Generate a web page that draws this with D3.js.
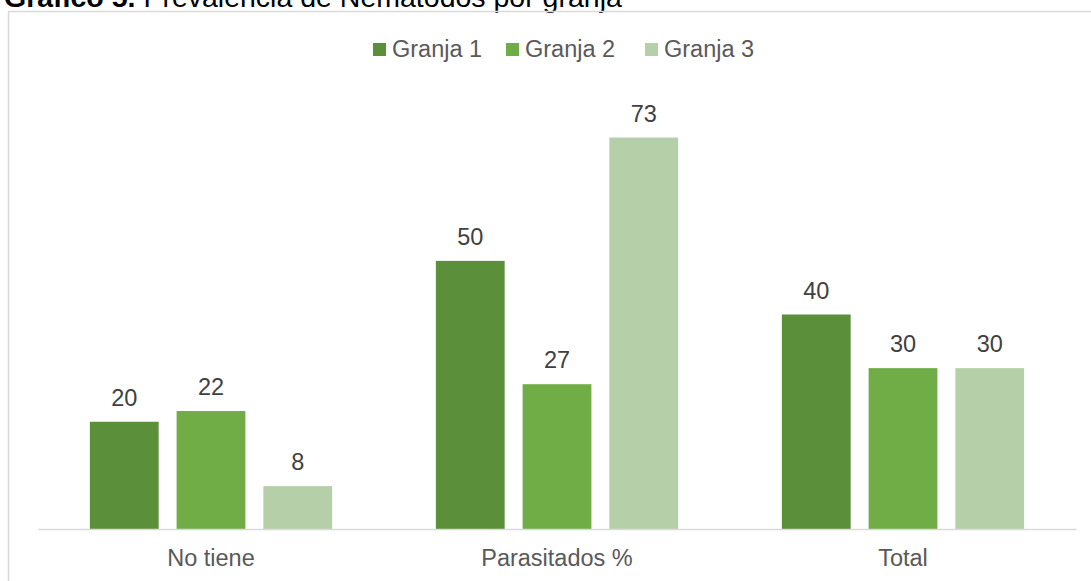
<!DOCTYPE html>
<html>
<head>
<meta charset="utf-8">
<script src="https://cdn.jsdelivr.net/npm/d3@7"></script>
<style>
  html, body { margin: 0; padding: 0; background: #fff; }
  svg { display: block; }
</style>
</head>
<body>
<svg id="chart" width="1091" height="581"></svg>
<script>
// Categories and series values
const categories = ["No tiene", "Parasitados %", "Total"];
const seriesNames = ["Granja 1", "Granja 2", "Granja 3"];
const granja1 = [20, 50, 40];
const granja2 = [22, 27, 30];
const granja3 = [8, 73, 30];
const seriesColors = ["#5b8f3a", "#70ad47", "#b5d0a8"];

const seriesValues = [granja1, granja2, granja3];

const svg = d3.select("#chart");
const W = 1091, H = 581;
const font = "'Liberation Sans', Arial, sans-serif";
const labelSize = 23.5;

// Title (runs past the top edge)
const title = svg.append("text")
  .attr("x", 4).attr("y", 7)
  .attr("font-family", font).attr("font-size", 28.5)
  .attr("fill", "#000");
title.append("tspan").attr("font-weight", "bold").text("Gráfico 5.");
title.append("tspan").text(" Prevalencia de Nematodos por granja");

// Chart frame
svg.append("rect")
  .attr("x", 8.5).attr("y", 11.5)
  .attr("width", W + 10).attr("height", H + 10)
  .attr("fill", "none").attr("stroke", "#d9d9d9").attr("stroke-width", 1.5);

const plot = { left: 38, right: 1076, top: 100, bottom: 529 };

const x0 = d3.scaleBand()
  .domain(categories)
  .range([plot.left, plot.right])
  .paddingInner(0).paddingOuter(0);

const x1 = d3.scaleBand()
  .domain(seriesNames)
  .range([0, x0.bandwidth()])
  .paddingInner(0.207)
  .paddingOuter(0.598);

const y = d3.scaleLinear().domain([0, 80]).range([plot.bottom, plot.top]);

// Bars
const groups = svg.append("g").selectAll("g")
  .data(categories)
  .join("g")
  .attr("transform", c => `translate(${x0(c)},0)`);

groups.selectAll("rect")
  .data((c, ci) => seriesNames.map((s, si) => ({ s, si, v: seriesValues[si][ci] })))
  .join("rect")
  .attr("x", d => x1(d.s))
  .attr("y", d => y(d.v))
  .attr("width", x1.bandwidth())
  .attr("height", d => y(0) - y(d.v))
  .attr("fill", d => seriesColors[d.si]);

// Value labels
groups.selectAll("text")
  .data((c, ci) => seriesNames.map((s, si) => ({ s, si, v: seriesValues[si][ci] })))
  .join("text")
  .attr("x", d => x1(d.s) + x1.bandwidth() / 2)
  .attr("y", d => y(d.v) - 16)
  .attr("text-anchor", "middle")
  .attr("font-family", font).attr("font-size", labelSize)
  .attr("fill", "#404040")
  .text(d => d.v);

// Category axis
const xAxis = d3.axisBottom(x0).tickSize(0).tickPadding(20);
const gx = svg.append("g")
  .attr("transform", `translate(0,${plot.bottom})`)
  .call(xAxis);
gx.select(".domain").attr("stroke", "#d9d9d9").attr("stroke-width", 1.5);
gx.selectAll("text")
  .attr("font-family", font).attr("font-size", labelSize)
  .attr("fill", "#595959");

// Legend
const legendItems = [
  { name: seriesNames[0], color: seriesColors[0], x: 373 },
  { name: seriesNames[1], color: seriesColors[1], x: 506 },
  { name: seriesNames[2], color: seriesColors[2], x: 645 }
];
const legend = svg.append("g").selectAll("g")
  .data(legendItems)
  .join("g")
  .attr("transform", d => `translate(${d.x},43)`);
legend.append("rect")
  .attr("width", 13).attr("height", 13)
  .attr("fill", d => d.color);
legend.append("text")
  .attr("x", 19).attr("y", 14)
  .attr("font-family", font).attr("font-size", labelSize)
  .attr("fill", "#595959")
  .text(d => d.name);
</script>
</body>
</html>
